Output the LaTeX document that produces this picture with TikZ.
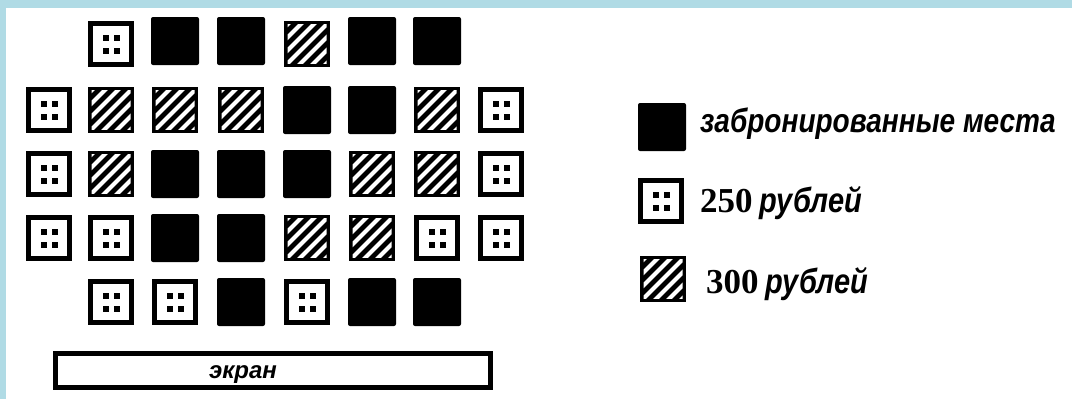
\documentclass[tikz,border=0pt]{standalone}
\usepackage{fontspec}
\setmainfont{Liberation Serif}
\newfontfamily\lsans{Liberation Sans}
\usetikzlibrary{calc}
\definecolor{bluebar}{RGB}{176,219,229}
\tikzset{
  seatbase/.style={minimum width=46pt, minimum height=46pt, inner sep=0pt, outer sep=0pt},
  booked/.style={seatbase, fill=black, rounded corners=2pt, minimum width=48pt, minimum height=48pt},
  cheap/.style={seatbase, draw=black, fill=white, line width=5pt, minimum width=41pt, minimum height=41pt,
    path picture={\foreach \dx in {-5.5,5.5} {\foreach \dy in {-6.5,6.5} {\fill[black] ($(path picture bounding box.center)+(\dx-3,\dy-3)$) rectangle ++(6,6);}}}},
  dear/.style={seatbase, fill=black,
    path picture={\clip ($(path picture bounding box.south west)+(3.5,3.5)$) rectangle ($(path picture bounding box.north east)+(-3.5,-3.5)$);
      \foreach \k in {-6,...,6} {\draw[white, line width=4.2pt] ($(path picture bounding box.center)+(\k*13-30,-30)$) -- ++(60,60);}}},
  screenbox/.style={draw=black, line width=5pt, fill=white, minimum width=435pt, minimum height=34pt, inner sep=0pt},
  labsans/.style={inner sep=0pt, font=\lsans\bfseries\itshape\fontsize{28}{30}\selectfont},
}
\begin{document}
\begin{tikzpicture}[x=1pt,y=1pt]
\useasboundingbox (0,0) rectangle (1072,-399);
\fill[white] (0,0) rectangle (1072,-399);
\fill[bluebar] (0,0) rectangle (1072,-8);
\fill[bluebar] (0,0) rectangle (6,-399);
% row 1
\node[cheap]  (r1c2) at (111,-44) {};
\node[booked] (r1c3) at (175,-41) {};
\node[booked] (r1c4) at (241,-41) {};
\node[dear]   (r1c5) at (307,-44) {};
\node[booked] (r1c6) at (372,-41) {};
\node[booked] (r1c7) at (437,-41) {};
% row 2
\node[cheap]  (r2c1) at (49,-110) {};
\node[dear]   (r2c2) at (111,-110) {};
\node[dear]   (r2c3) at (175,-110) {};
\node[dear]   (r2c4) at (241,-110) {};
\node[booked] (r2c5) at (307,-110) {};
\node[booked] (r2c6) at (372,-110) {};
\node[dear]   (r2c7) at (437,-110) {};
\node[cheap]  (r2c8) at (501,-110) {};
% row 3
\node[cheap]  (r3c1) at (49,-174) {};
\node[dear]   (r3c2) at (111,-174) {};
\node[booked] (r3c3) at (175,-174) {};
\node[booked] (r3c4) at (241,-174) {};
\node[booked] (r3c5) at (307,-174) {};
\node[dear]   (r3c6) at (372,-174) {};
\node[dear]   (r3c7) at (437,-174) {};
\node[cheap]  (r3c8) at (501,-174) {};
% row 4
\node[cheap]  (r4c1) at (49,-238) {};
\node[cheap]  (r4c2) at (111,-238) {};
\node[booked] (r4c3) at (175,-238) {};
\node[booked] (r4c4) at (241,-238) {};
\node[dear]   (r4c5) at (307,-238) {};
\node[dear]   (r4c6) at (372,-238) {};
\node[cheap]  (r4c7) at (437,-238) {};
\node[cheap]  (r4c8) at (501,-238) {};
% row 5
\node[cheap]  (r5c2) at (111,-302) {};
\node[cheap]  (r5c3) at (175,-302) {};
\node[booked] (r5c4) at (241,-302) {};
\node[cheap]  (r5c5) at (307,-302) {};
\node[booked] (r5c6) at (372,-302) {};
\node[booked] (r5c7) at (437,-302) {};
% screen
\node[screenbox] (screen) at (273,-370.5) {};
\node[inner sep=0pt, font=\lsans\bfseries\itshape\fontsize{24}{25}\selectfont] (screenlabel) at (243,-375) {экран};
% legend
\node[booked] (legbooked) at (662,-127) {};
\node[cheap]  (legcheap)  at (661,-201) {};
\node[dear]   (legdear)   at (663,-279) {};
\node[labsans, anchor=base west] (txtbooked) at (700,-132) {\scalebox{1}[1.2]{забронированные места}};
\node[inner sep=0pt, anchor=base west] (txtcheap) at (700,-212) {{\bfseries\fontsize{35}{36}\selectfont 250}\hspace{7pt}{\lsans\bfseries\itshape\fontsize{29}{30}\selectfont\scalebox{1}[1.2]{рублей}}};
\node[inner sep=0pt, anchor=base west] (txtdear) at (706,-293) {{\bfseries\fontsize{35}{36}\selectfont 300}\hspace{7pt}{\lsans\bfseries\itshape\fontsize{29}{30}\selectfont\scalebox{1}[1.2]{рублей}}};
\end{tikzpicture}
\end{document}
